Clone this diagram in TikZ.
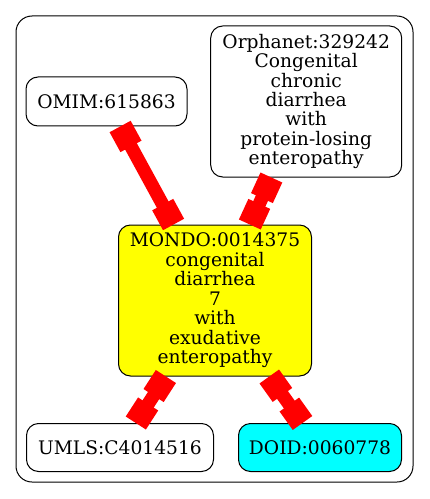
\documentclass[tikz,border=0pt]{standalone}
\usepackage{fontspec}
\setmainfont{DejaVu Serif}
\usetikzlibrary{arrows.meta}

\definecolor{nodeyellow}{RGB}{255,255,0}
\definecolor{nodecyan}{RGB}{0,255,255}
\definecolor{edgered}{RGB}{255,0,0}

\tikzset{
  term/.style={draw, rounded corners=9pt, line width=0.75pt, align=center, inner sep=0pt,
    font=\fontsize{14}{14.6}\selectfont},
  xref/.style={draw=edgered, fill=edgered, line width=10pt,
    {Rectangle[length=17pt,width=18pt]}-{Rectangle[length=17pt,width=18pt]}}
}

\begin{document}
\begin{tikzpicture}[x=0.75pt, y=-0.75pt]
      \useasboundingbox (0, 0) rectangle (429, 499);
      \draw[line width=0.75pt, rounded corners=12pt] (16, 16) rectangle (413, 482);

      \node[term, minimum width=120.75pt, minimum height=36.75pt] (omim) at (106.5, 101.5) {OMIM:615863};
      \node[term, minimum width=143.25pt, minimum height=113.25pt] (orpha) at (306.2, 101.5)
        {Orphanet:329242\\Congenital\\chronic\\diarrhea\\with\\protein-losing\\enteropathy};
      \node[term, fill=nodeyellow, minimum width=144.75pt, minimum height=113.25pt] (mondo) at (215, 300.5)
        {MONDO:0014375\\congenital\\diarrhea\\7\\with\\exudative\\enteropathy};
      \node[term, minimum width=140.25pt, minimum height=36pt] (umls) at (120, 447.5) {UMLS:C4014516};
      \node[term, fill=nodecyan, minimum width=122.25pt, minimum height=36pt] (doid) at (320, 447.5) {DOID:0060778};

      \draw[xref] (omim) -- (mondo);
      \draw[xref] (orpha) -- (mondo);
      \draw[xref] (mondo) -- (umls);
      \draw[xref] (mondo) -- (doid);
\end{tikzpicture}
\end{document}
